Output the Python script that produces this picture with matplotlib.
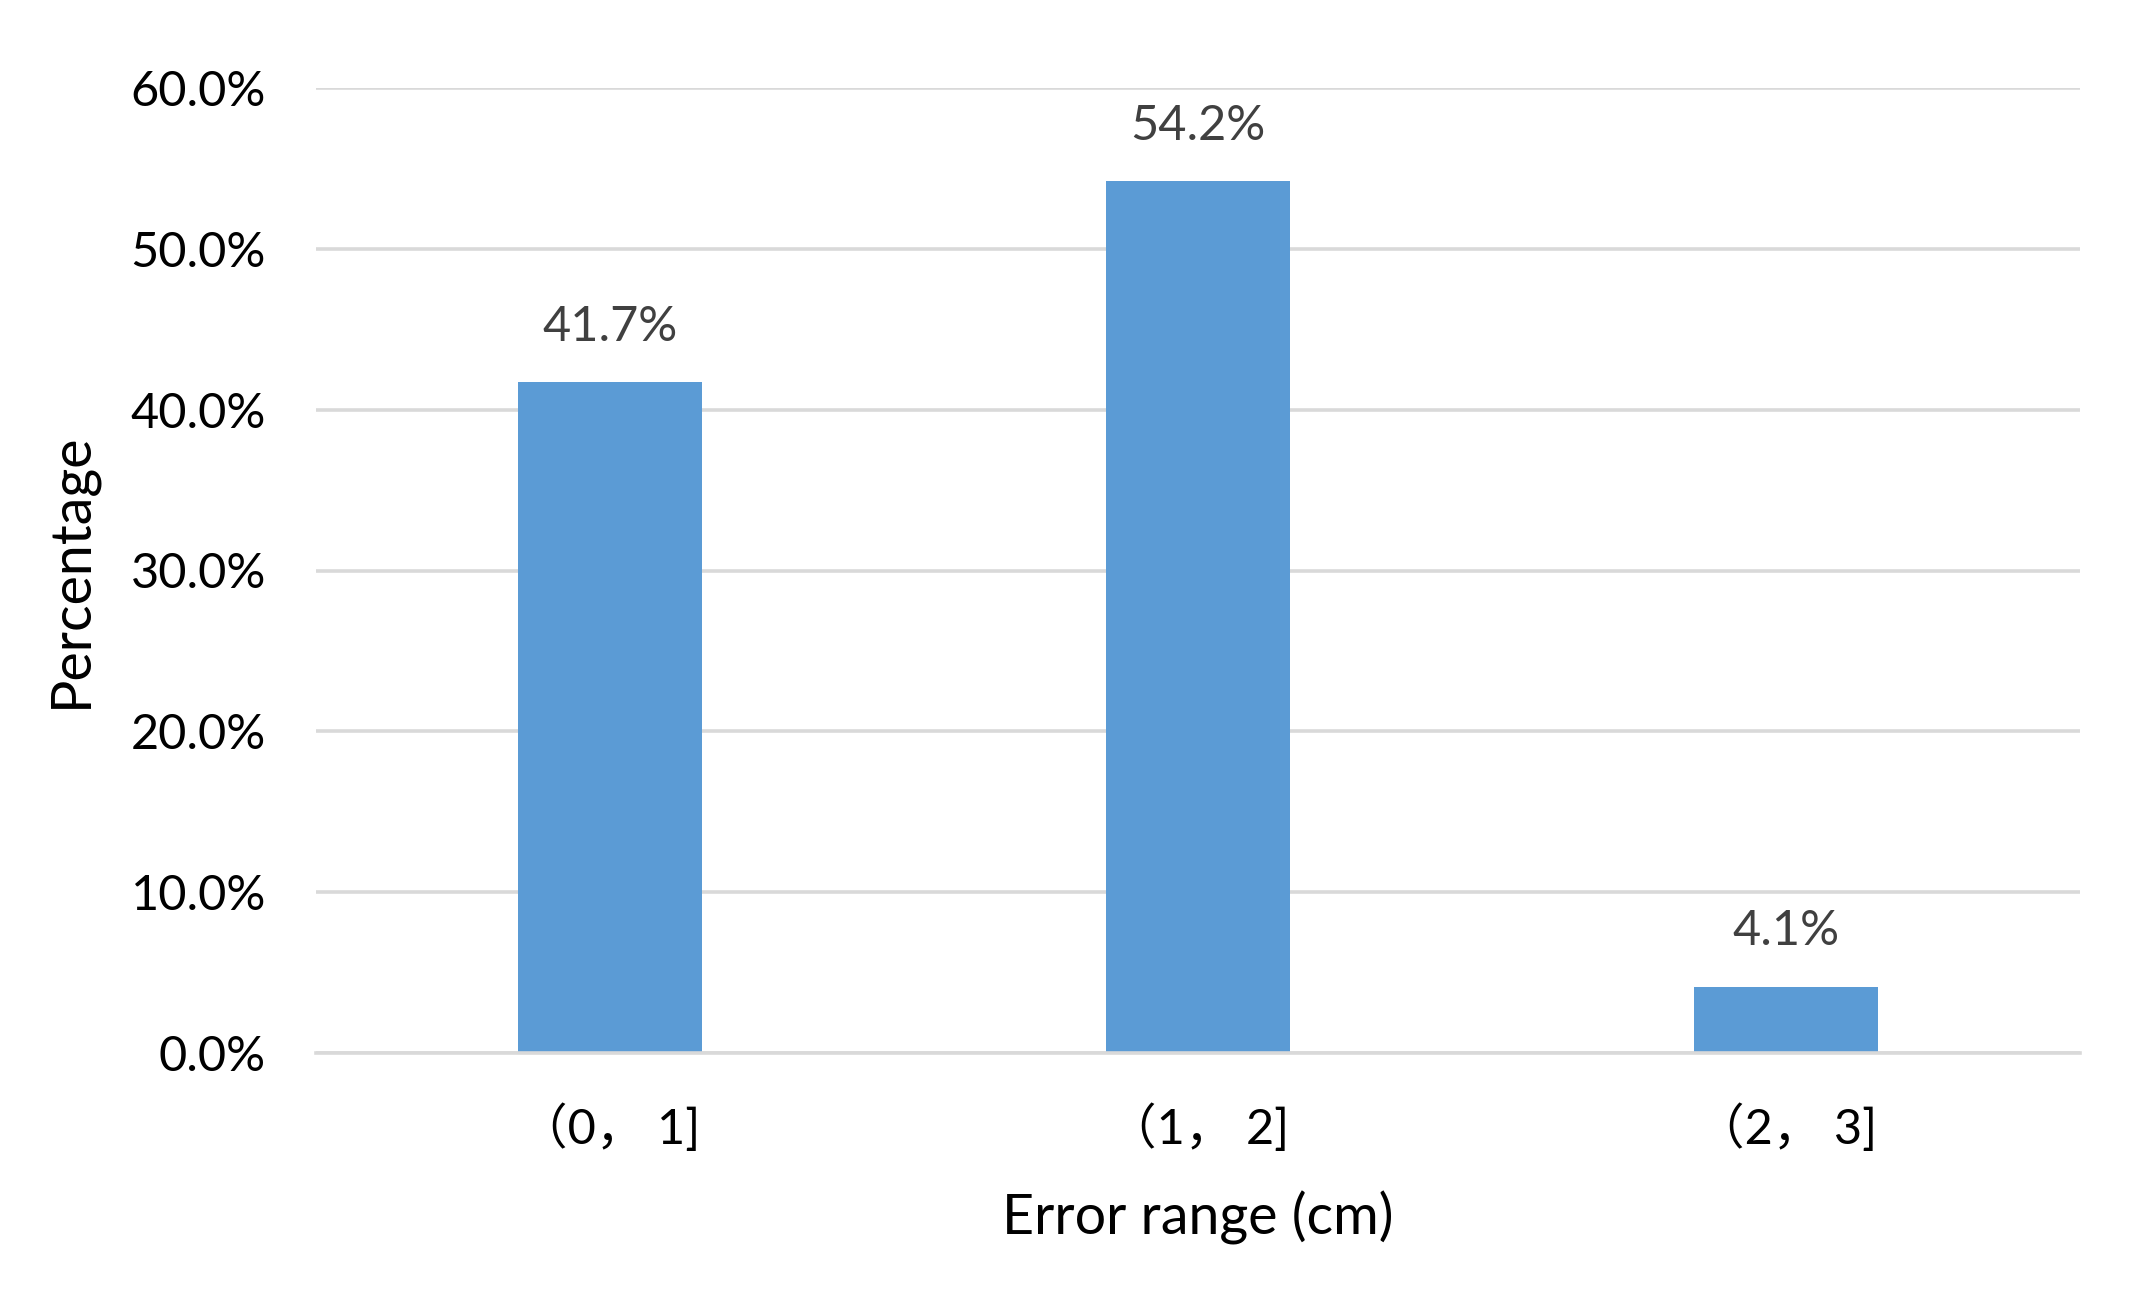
import numpy as np
import matplotlib
matplotlib.use('Agg')
import matplotlib.pyplot as plt
from matplotlib.ticker import FuncFormatter

plt.rcParams['font.family'] = ['Lato', 'Noto Sans CJK SC', 'DejaVu Sans']

# data
categories = ['（0， 1]', '（1， 2]', '（2， 3]']
percentages = [41.7, 54.2, 4.1]
yticks = [0, 10, 20, 30, 40, 50, 60]

bar_color = '#5B9BD5'
grid_color = '#D9D9D9'

fig = plt.figure(figsize=(10.68, 6.475), dpi=200)
ax = fig.add_axes([316/2136, 1-1053/1295, (2080-316)/2136, (1053-88)/1295])

x = np.arange(len(categories))
bars = ax.bar(x, percentages, width=0.313, color=bar_color, zorder=3)

for xi, v in zip(x, percentages):
	ax.text(xi, v + 2.1, '%.1f%%' % v, ha='center', va='bottom', fontsize=17.5, color='#404040')

ax.set_xlim(-0.5, 2.5)
ax.set_ylim(0, 60)
ax.set_yticks(yticks)
ax.yaxis.set_major_formatter(FuncFormatter(lambda v, p: '%.1f%%' % v))
ax.set_xticks(x)
ax.set_xticklabels(categories)

ax.grid(axis='y', color=grid_color, linewidth=1.3, zorder=0)
for s in ['top', 'right', 'left']:
	ax.spines[s].set_visible(False)
ax.spines['bottom'].set_color(grid_color)
ax.spines['bottom'].set_linewidth(1.3)
ax.spines['bottom'].set_zorder(4)

ax.tick_params(axis='both', length=0, labelsize=17.5, colors='black')
ax.tick_params(axis='y', pad=18)
ax.tick_params(axis='x', pad=18)

ax.set_xlabel('Error range (cm)', fontsize=20, labelpad=14)
ax.set_ylabel('Percentage', fontsize=20, labelpad=12)

fig.savefig('out.png', dpi=200)
